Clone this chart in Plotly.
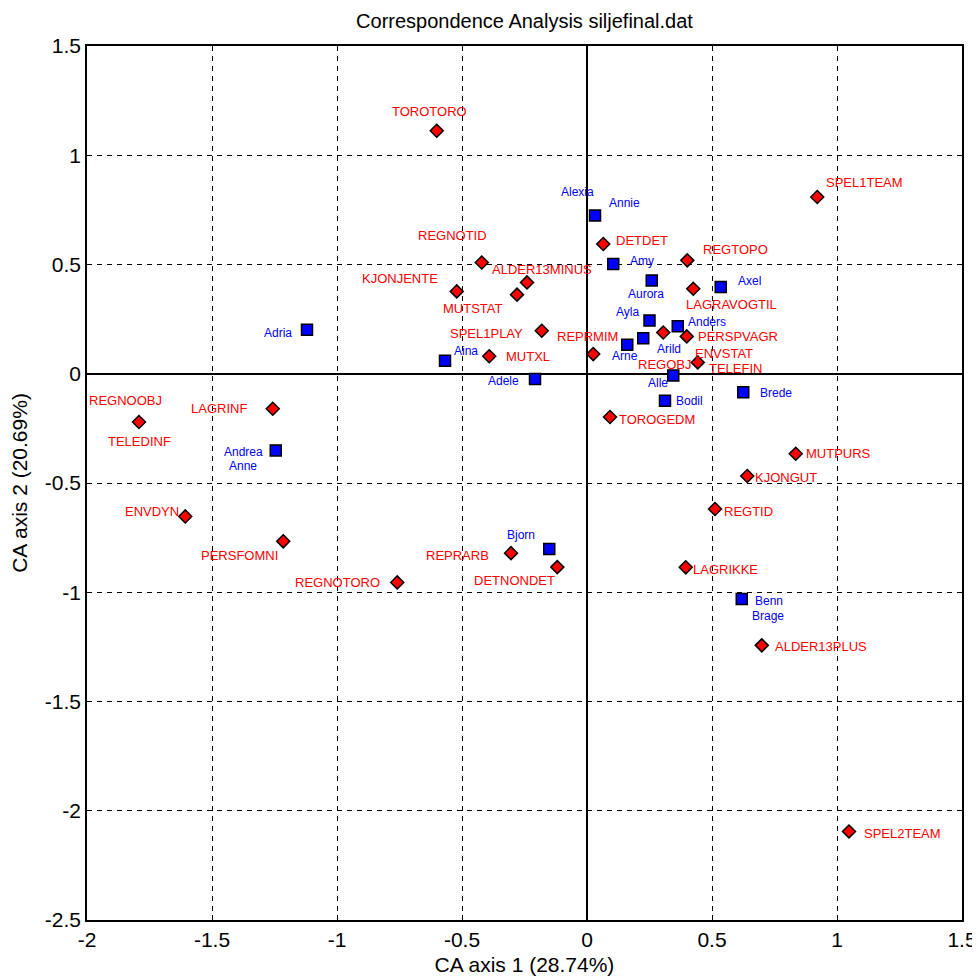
import plotly.graph_objects as go

# ---- data: row/column categories (red) ----
red_labels = ["TOROTORO", "REGNOTID", "ALDER13MINUS", "KJONJENTE", "MUTSTAT",
              "SPEL1PLAY", "MUTXL", "REPRMIM", "DETDET", "REGTOPO",
              "LAGRAVOGTIL", "REGOBJ", "PERSPVAGR", "ENVSTAT|TELEFIN", "TOROGEDM",
              "SPEL1TEAM", "REGNOOBJ|TELEDINF", "LAGRINF", "ENVDYN", "PERSFOMNI",
              "REGNOTORO", "REPRARB", "DETNONDET", "MUTPURS", "KJONGUT",
              "REGTID", "LAGRIKKE", "ALDER13PLUS", "SPEL2TEAM"]
red_x = [-0.601, -0.421, -0.240, -0.521, -0.280,
         -0.181, -0.391, 0.025, 0.065, 0.401,
         0.425, 0.305, 0.399, 0.443, 0.092,
         0.921, -1.792, -1.257, -1.607, -1.215,
         -0.759, -0.304, -0.119, 0.835, 0.641,
         0.512, 0.395, 0.699, 1.048]
red_y = [1.112, 0.509, 0.418, 0.377, 0.362,
         0.197, 0.080, 0.090, 0.594, 0.519,
         0.389, 0.189, 0.171, 0.052, -0.198,
         0.809, -0.221, -0.160, -0.653, -0.767,
         -0.955, -0.821, -0.885, -0.366, -0.468,
         -0.619, -0.886, -1.243, -2.095]

# ---- data: individuals (blue) ----
blue_labels = ["Alexia|Annie", "Amy", "Aurora", "Axel", "Ayla", "Anders", "Arild",
               "Arne", "Alle", "Adele", "Aina", "Bodil", "Brede", "Adria",
               "Andrea|Anne", "Bjorn", "Benn|Brage"]
blue_x = [0.032, 0.105, 0.259, 0.535, 0.250, 0.363, 0.225,
          0.161, 0.345, -0.208, -0.568, 0.312, 0.625, -1.120,
          -1.245, -0.151, 0.619]
blue_y = [0.724, 0.502, 0.427, 0.397, 0.244, 0.217, 0.163,
          0.133, -0.008, -0.024, 0.060, -0.124, -0.085, 0.201,
          -0.351, -0.802, -1.031]

x_ticks = [-2, -1.5, -1, -0.5, 0, 0.5, 1, 1.5]
y_ticks = [-2.5, -2, -1.5, -1, -0.5, 0, 0.5, 1, 1.5]
title = "Correspondence Analysis siljefinal.dat"
x_title = "CA axis 1 (28.74%)"
y_title = "CA axis 2 (20.69%)"

# ---- label placement offsets (pixels: dx right, dy down) ----
label_offsets = {
    "TOROTORO": (-7, -19), "REGNOTID": (-29, -27), "ALDER13MINUS": (15, -13),
    "KJONJENTE": (-57, -13), "MUTSTAT": (-44, 14), "SPEL1PLAY": (-55, 3),
    "MUTXL": (39, 0), "REPRMIM": (-6, -18), "DETDET": (39, -3),
    "REGTOPO": (48, -11), "LAGRAVOGTIL": (38, 16), "REGOBJ": (1, 32),
    "PERSPVAGR": (51, 0), "ENVSTAT": (26, -9), "TELEFIN": (38, 6),
    "TOROGEDM": (47, 2), "SPEL1TEAM": (47, -14), "REGNOOBJ": (-14, -22),
    "TELEDINF": (0, 19), "LAGRINF": (-54, 0), "ENVDYN": (-33, -5),
    "PERSFOMNI": (-44, 14), "REGNOTORO": (-60, 0), "REPRARB": (-54, 2),
    "DETNONDET": (-43, 13), "MUTPURS": (43, 0), "KJONGUT": (39, 1),
    "REGTID": (33, 2), "LAGRIKKE": (40, 2), "ALDER13PLUS": (59, 1),
    "SPEL2TEAM": (53, 2),
    "Alexia": (-18, -24), "Annie": (29, -13), "Amy": (29, -3), "Aurora": (-6, 14),
    "Axel": (29, -6), "Ayla": (-22, -8), "Anders": (29, -4), "Arild": (26, 11),
    "Arne": (-2, 11), "Alle": (-15, 7), "Adele": (-32, 2), "Aina": (21, -10),
    "Bodil": (24, 0), "Brede": (33, 1), "Adria": (-29, 3), "Andrea": (-32, 2),
    "Anne": (-33, 16), "Bjorn": (-28, -14), "Benn": (27, 2), "Brage": (26, 17),
}

FONT = "Liberation Sans, Arial, sans-serif"

fig = go.Figure()
fig.add_trace(go.Scatter(
    x=blue_x, y=blue_y, mode="markers", hoverinfo="skip",
    marker=dict(symbol="square", size=11, color="#0000ff",
                line=dict(color="black", width=1.5)),
))
fig.add_trace(go.Scatter(
    x=red_x, y=red_y, mode="markers", hoverinfo="skip",
    marker=dict(symbol="diamond", size=10, color="#ff0000",
                line=dict(color="black", width=1.5)),
))

annotations = []
for labels, xs, ys, col, fs in [(red_labels, red_x, red_y, "#ff0000", 13),
                                (blue_labels, blue_x, blue_y, "#0000ff", 12)]:
    for lab, x, y in zip(labels, xs, ys):
        for name in lab.split("|"):
            dx, dy = label_offsets[name]
            annotations.append(dict(
                x=x, y=y, text=name, showarrow=False, xanchor="center",
                yanchor="middle", xshift=dx, yshift=-dy,
                font=dict(family=FONT, size=fs, color=col)))

axis_common = dict(
    showgrid=True, gridcolor="black", gridwidth=1, griddash="5px,5px",
    zeroline=True, zerolinecolor="black", zerolinewidth=1.5,
    showline=True, linecolor="black", linewidth=1.5, mirror="ticks",
    ticks="inside", ticklen=5, tickcolor="black", automargin=False,
    tickfont=dict(family=FONT, size=21, color="black"),
)

# page body adds an 8px offset; margins compensate so the plot box
# lands at x 87..962, y 46..920 of the window
fig.update_layout(
    width=980, height=980, autosize=False,
    margin=dict(l=79, r=26, t=38, b=68),
    paper_bgcolor="white", plot_bgcolor="white",
    showlegend=False,
    title=dict(text=title, x=516.5 / 980, xanchor="center", y=1 - 13 / 980,
               yanchor="middle", font=dict(family=FONT, size=20, color="black")),
    xaxis=dict(range=[-2, 1.5], tickvals=x_ticks,
               ticktext=[f"{v:g}" for v in x_ticks],
               title=dict(text=x_title, standoff=7,
                          font=dict(family=FONT, size=21, color="black")),
               **axis_common),
    yaxis=dict(range=[-2.5, 1.5], tickvals=y_ticks,
               ticktext=[f"{v:g}" for v in y_ticks],
               title=dict(text=y_title, standoff=12,
                          font=dict(family=FONT, size=21, color="black")),
               **axis_common),
    annotations=annotations,
)

fig.write_html("out.html")
